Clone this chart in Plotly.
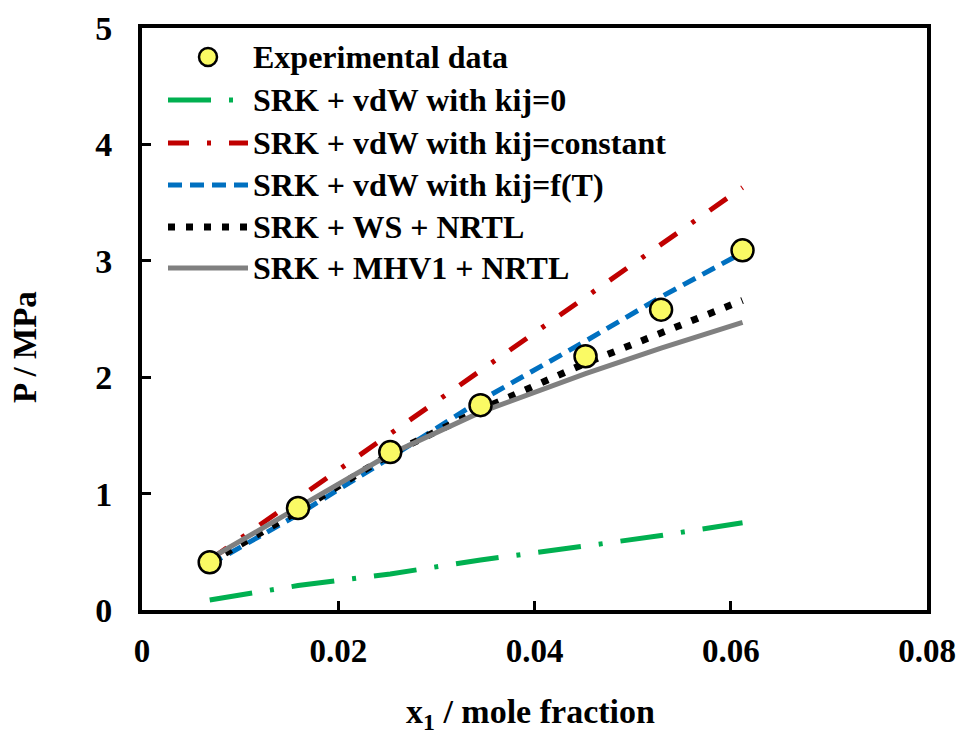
import plotly.graph_objects as go

# ---- data ----
x_exp = [0.0069, 0.0159, 0.0253, 0.0345, 0.0452, 0.0529, 0.0612]
p_exp = [0.41, 0.876, 1.357, 1.76, 2.18, 2.58, 3.09]

p_kij0 = [0.086, 0.21, 0.31, 0.43, 0.55, 0.64, 0.75]
p_kijconst = [0.43, 0.96, 1.51, 2.05, 2.68, 3.14, 3.63]
p_kijT = [0.39, 0.82, 1.31, 1.80, 2.31, 2.69, 3.07]
p_ws = [0.41, 0.85, 1.34, 1.72, 2.12, 2.38, 2.66]
p_mhv1 = [0.44, 0.88, 1.34, 1.70, 2.03, 2.25, 2.47]

x_tickvals = [0, 0.02, 0.04, 0.06, 0.08]
x_ticktext = ["0", "0.02", "0.04", "0.06", "0.08"]
y_tickvals = [0, 1, 2, 3, 4, 5]

names = [
    "Experimental data",
    "SRK + vdW with kij=0",
    "SRK + vdW with kij=constant",
    "SRK + vdW with kij=f(T)",
    "SRK + WS + NRTL",
    "SRK + MHV1 + NRTL",
]

FONT = "Liberation Serif, Times New Roman, serif"

styles = [
    dict(color="#00B050", width=5, dash="43px,18px,4px,18px"),
    dict(color="#C00000", width=5, dash="21px,18px,4px,18px"),
    dict(color="#0070C0", width=5, dash="14px,8px"),
    dict(color="#000000", width=7, dash="7px,11px"),
    dict(color="#808080", width=5, dash="solid"),
]
model_series = [p_kij0, p_kijconst, p_kijT, p_ws, p_mhv1]

fig = go.Figure()
for s, ys, nm in zip(styles, model_series, names[1:]):
    fig.add_trace(go.Scatter(x=x_exp, y=ys, mode="lines", name=nm,
                             line=s, showlegend=False))

fig.add_trace(go.Scatter(x=x_exp, y=p_exp, mode="markers", name=names[0],
                         marker=dict(size=22, color="#FAFA64",
                                     line=dict(color="black", width=2.5)),
                         showlegend=False))

# ---- plot area in pixels ----
L, T, R, B = 142, 28, 927, 610
W, H = 956, 735


def px(xp):
    return (xp - L) / (R - L)


def py(yp):
    return (B - yp) / (B - T)


# ---- custom legend ----
rows = [57, 100, 143, 185, 227, 268]
shapes = []
annotations = []
shapes.append(dict(type="circle", xref="paper", yref="paper",
                   xsizemode="pixel", ysizemode="pixel",
                   xanchor=px(208), yanchor=py(rows[0]),
                   x0=-9, x1=9, y0=-9, y1=9,
                   fillcolor="#FAFA64", line=dict(color="black", width=2.5)))
for s, r in zip(styles, rows[1:]):
    shapes.append(dict(type="line", xref="paper", yref="paper",
                       x0=px(168), x1=px(248), y0=py(r), y1=py(r),
                       line=s))
for nm, r in zip(names, rows):
    annotations.append(dict(text=nm, xref="paper", yref="paper",
                            x=px(251), y=py(r), xanchor="left",
                            yanchor="middle", showarrow=False,
                            font=dict(family=FONT, size=32, color="black",
                                      weight="bold")))

# axis titles
annotations.append(dict(text="x<sub>1</sub> / mole fraction", xref="paper",
                        yref="paper", x=px(530), y=py(714), xanchor="center",
                        yanchor="middle", showarrow=False,
                        font=dict(family=FONT, size=34, color="black",
                                  weight="bold")))
annotations.append(dict(text="P / MPa", xref="paper", yref="paper",
                        x=px(25), y=py(347), xanchor="center",
                        yanchor="middle", showarrow=False, textangle=-90,
                        font=dict(family=FONT, size=33, color="black",
                                  weight="bold")))

axis_common = dict(showgrid=False, zeroline=False, showline=True,
                   linecolor="black", linewidth=4, mirror=True,
                   ticks="inside", ticklen=9, tickwidth=3, tickcolor="black",
                   ticklabeloverflow="allow", automargin=False)

fig.update_layout(
    width=W, height=H, autosize=False,
    margin=dict(l=L, r=W - R, t=T, b=H - B, autoexpand=False),
    paper_bgcolor="white", plot_bgcolor="white",
    xaxis=dict(range=[0, 0.08], tickvals=x_tickvals, ticktext=x_ticktext,
               ticklabelstandoff=8,
               tickfont=dict(family=FONT, size=33, color="black",
                             weight="bold"),
               **axis_common),
    yaxis=dict(range=[0, 5], tickvals=y_tickvals,
               ticklabelstandoff=19,
               tickfont=dict(family=FONT, size=34, color="black",
                             weight="bold"),
               **axis_common),
    shapes=shapes,
    annotations=annotations,
    showlegend=False,
)

post = (
    "document.documentElement.style.overflow='hidden';"
    "document.body.style.margin='0px';"
    "document.body.style.overflow='hidden';"
)

fig.write_html("out.html",
               config={"displayModeBar": False},
               post_script=post)
